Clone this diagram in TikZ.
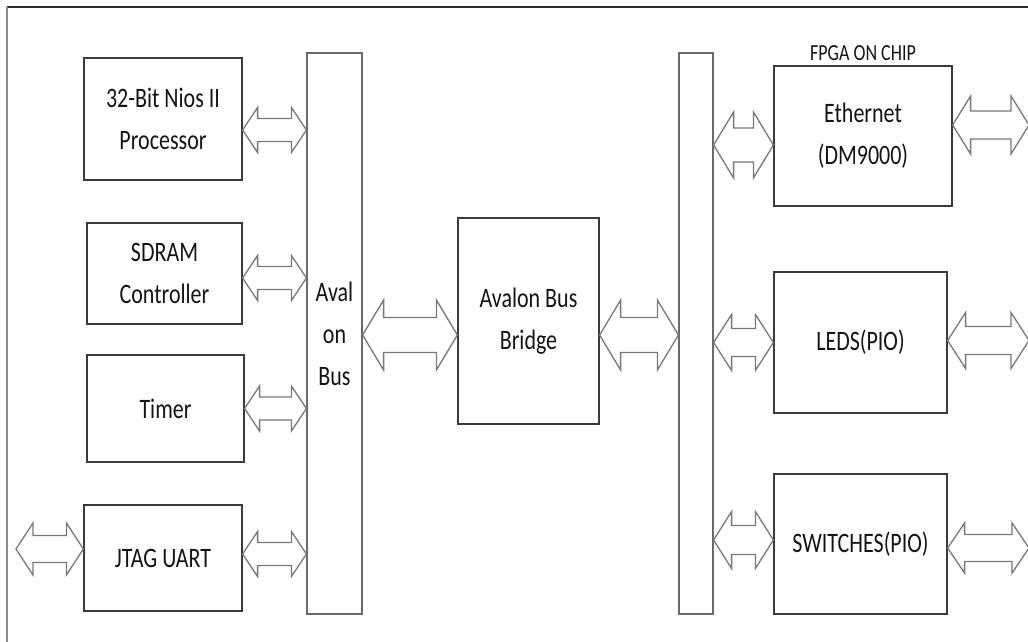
\documentclass[tikz,border=0pt]{standalone}
\usepackage{graphicx}
\usepackage{fontspec}
\setmainfont{Carlito}
\usetikzlibrary{calc}
\definecolor{boxline}{HTML}{3A3A3A}
\definecolor{barline}{HTML}{6A6A6A}
\definecolor{arrowgray}{HTML}{787878}
\definecolor{frameline}{HTML}{2A2A2A}
\definecolor{frameside}{HTML}{8A8A8A}
\definecolor{textdark}{HTML}{141414}
\newcommand{\tall}[1]{\scalebox{1}[1.28]{#1}}

\begin{document}
\begin{tikzpicture}[x=0.5pt, y=-0.5pt,
  block/.style={draw=boxline, line width=0.6pt, align=center, inner sep=0pt,
                text=textdark, font=\fontsize{11}{21}\selectfont},
  busbar/.style={draw=barline, line width=0.6pt, align=center, inner sep=0pt,
                 text=textdark, font=\fontsize{11}{21}\selectfont},
  blockarrow/.style args={#1/#2/#3}{draw=arrowgray, line width=0.65pt, line join=miter,
    to path={let \p1=(\tikztostart), \p2=(\tikztotarget) in
      (\x1,\y1) -- (\x1+#1*0.5pt,\y1+#2*0.5pt) -- (\x1+#1*0.5pt,\y1+#3*0.5pt)
      -- (\x2-#1*0.5pt,\y1+#3*0.5pt) -- (\x2-#1*0.5pt,\y1+#2*0.5pt) -- (\x2,\y1)
      -- (\x2-#1*0.5pt,\y1-#2*0.5pt) -- (\x2-#1*0.5pt,\y1-#3*0.5pt)
      -- (\x1+#1*0.5pt,\y1-#3*0.5pt) -- (\x1+#1*0.5pt,\y1-#2*0.5pt) -- cycle}},
  thinarrow/.style={blockarrow=15/22.5/11.5},
  widearrow/.style={blockarrow=21/35/17.5},
  sidearrow/.style={blockarrow=18/28/14},
]
\useasboundingbox (0,0) rectangle (1028,642);

% ── Frame ───────────────────────────────────────────────────────────────
\draw[frameline, line width=0.7pt] (1028,7) -- (7,7);
\draw[frameside, line width=0.6pt] (7,7) -- (7,642);

% ── Left side · processor and peripherals ───────────────────────────────
\node[block, minimum width=79pt, minimum height=61pt] (nios) at (163,119)
      {\tall{32-Bit Nios II}\\\tall{Processor}};
\node[block, minimum width=77.5pt, minimum height=50.5pt] (sdram) at (164.5,273.5)
      {\tall{SDRAM}\\\tall{Controller}};
\node[block, minimum width=78.5pt, minimum height=53.5pt] (timer) at (165.5,408.5)
      {\tall{Timer}};
\node[block, minimum width=79pt, minimum height=53pt] (jtag) at (163,558)
      {\tall{JTAG UART}};
\coordinate (jtagext) at (16,549);

% ── Avalon bus and bridge ───────────────────────────────────────────────
\node[busbar, minimum width=27.5pt, minimum height=280.5pt] (abus) at (334.5,333.5)
      {\tall{Aval}\\\tall{on}\\\tall{Bus}};
\node[block, minimum width=70.5pt, minimum height=103pt] (bridge) at (528.5,321)
      {\tall{Avalon Bus}\\\tall{Bridge}};
\node[busbar, minimum width=17pt, minimum height=280.5pt] (rbus) at (696,333.5) {};

% ── Right side · FPGA on chip ───────────────────────────────────────────
\node[block, minimum width=89pt, minimum height=70pt] (eth) at (863,136)
      {\tall{Ethernet}\\\tall{(DM9000)}};
\node[text=textdark, font=\fontsize{9}{10}\selectfont] (fpga) at (863,53)
      {\tall{FPGA ON CHIP}};
\node[block, minimum width=86.5pt, minimum height=70.5pt] (leds) at (860.5,342.5)
      {\tall{LEDS(PIO)}};
\node[block, minimum width=86.5pt, minimum height=70pt] (sw) at (860.5,544)
      {\tall{SWITCHES(PIO)}};
\coordinate (ethext) at (1029,125);
\coordinate (ledsext) at (1029,340);
\coordinate (swext) at (1029,548);

% ── Bus connections ─────────────────────────────────────────────────────
\draw[thinarrow] ([yshift=-5.5pt]nios.east) to (abus.west);
\draw[thinarrow] ([yshift=-2.25pt]sdram.east) to (abus.west);
\draw[thinarrow] (timer.east) to (abus.west);
\draw[thinarrow] ([yshift=2pt]jtag.east) to (abus.west);
\draw[blockarrow=17/26/13.5] (jtagext) to (jtag.west);

\draw[widearrow] ([yshift=-0.75pt]abus.east) to (bridge.west);
\draw[widearrow] ([yshift=-7pt]bridge.east) to (rbus.west);

\draw[blockarrow=20/33/17] ($(rbus.east |- eth.west)+(0,9)$) to (eth.west);
\draw[sidearrow] (rbus.east |- leds.west) to (leds.west);
\draw[blockarrow=18/28.5/14.5] ($(rbus.east |- sw.west)+(0,-4)$) to (sw.west);

\draw[blockarrow=18/29/14] ([yshift=5.5pt]eth.east) to (ethext);
\draw[sidearrow] ([yshift=1pt]leds.east) to (ledsext);
\draw[blockarrow=17/25/13.5] ([yshift=-2pt]sw.east) to (swext);

\end{tikzpicture}
\end{document}
